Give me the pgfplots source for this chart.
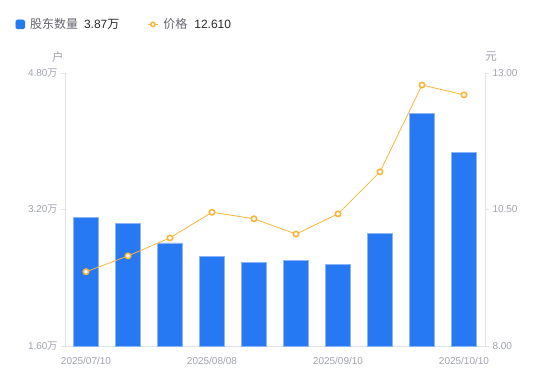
\documentclass[border=0pt]{standalone}
\usepackage{pgfplots}
\pgfplotsset{compat=1.18}
\usepackage{fontspec}
\setmainfont{Liberation Sans}
\newfontfamily\cjk{Noto Sans CJK SC}
\definecolor{barblue}{RGB}{39,120,243}
\definecolor{baredge}{RGB}{140,180,250}
\definecolor{lineor}{RGB}{249,182,60}
\definecolor{tickgray}{RGB}{160,163,175}
\definecolor{axgray}{RGB}{224,227,232}
\definecolor{leggray}{RGB}{100,100,110}
\definecolor{legdark}{RGB}{40,40,45}
\begin{document}
\begin{tikzpicture}
\path (0,0) rectangle (550pt,381pt);
\begin{axis}[
  at={(65pt,35pt)}, anchor=south west,
  scale only axis, width=420pt, height=273pt,
  xmin=-0.5, xmax=9.5, ymin=1.6, ymax=4.8,
  axis y line*=left, axis x line*=bottom,
  axis line style={draw=axgray, line width=0.8pt},
  xtick={0,3,6,9},
  xticklabels={2025/07/10,2025/08/08,2025/09/10,2025/10/10},
  xtick style={draw=none},
  xticklabel style={font=\fontsize{10}{12}\selectfont, text=tickgray, yshift=-4pt},
  ytick={1.6,3.2,4.8},
  yticklabels={1.60{\cjk 万},3.20{\cjk 万},4.80{\cjk 万}},
  yticklabel style={font=\fontsize{10}{12}\selectfont, text=tickgray},
  tick align=outside, major tick length=4pt,
  ytick style={draw=axgray, line width=0.8pt},
  /pgf/number format/assume math mode=true,
  legend columns=2,
  legend style={at={(axis description cs:-0.118,1.178)}, anchor=west, draw=none, fill=none,
    inner sep=0pt, font=\fontsize{12}{14}\selectfont,
    nodes={inner sep=0pt, anchor=west}},
  legend cell align=left,
  /tikz/every even column/.append style={column sep=28pt},
  /tikz/every odd column/.append style={column sep=5pt},
  clip=false,
]
\addplot[ybar, bar width=0.595, fill=barblue, draw=baredge, line width=0.4pt,
  legend image code/.code={\fill[barblue, rounded corners=1.5pt] (0pt,-4.5pt) rectangle (9pt,4.5pt);}]
  coordinates {(0,3.11) (1,3.04) (2,2.81) (3,2.65) (4,2.58) (5,2.60) (6,2.56) (7,2.92) (8,4.33) (9,3.87)};
\addlegendentry{{\cjk\color{leggray}股东数量}\hspace{6pt}{\color{legdark}3.87{\cjk 万}}}
\addlegendimage{legend image code/.code={\draw[lineor, line width=1pt] (0pt,0pt) -- (10pt,0pt); \draw[lineor, fill=white, line width=1.5pt] (5pt,0pt) circle (2.2pt);}}
\addlegendentry{{\cjk\color{leggray}价格}\hspace{7pt}{\color{legdark}12.610}}
\node[font=\cjk\fontsize{11.5}{13}\selectfont, text=tickgray] at ([xshift=-7pt,yshift=16pt]rel axis cs:0,1) {户};
\end{axis}
\begin{axis}[
  at={(65pt,35pt)}, anchor=south west,
  scale only axis, width=420pt, height=273pt,
  xmin=-0.5, xmax=9.5, ymin=8, ymax=13,
  axis y line*=right, axis x line=none,
  axis line style={draw=axgray, line width=0.8pt},
  ytick={8,10.5,13},
  yticklabels={8.00,10.50,13.00},
  yticklabel style={font=\fontsize{10}{12}\selectfont, text=tickgray},
  tick align=outside, major tick length=4pt,
  ytick style={draw=axgray, line width=0.8pt},
  clip=false,
]
\addplot[lineor, line width=0.8pt, mark=*, mark size=2.7pt,
  mark options={fill=white, draw=lineor, line width=1.6pt}]
  coordinates {(0,9.36) (1,9.65) (2,9.98) (3,10.45) (4,10.33) (5,10.05) (6,10.42) (7,11.19) (8,12.78) (9,12.60)};
\node[font=\cjk\fontsize{11.5}{13}\selectfont, text=tickgray] at ([xshift=6pt,yshift=16pt]rel axis cs:1,1) {元};
\end{axis}
\end{tikzpicture}
\end{document}
